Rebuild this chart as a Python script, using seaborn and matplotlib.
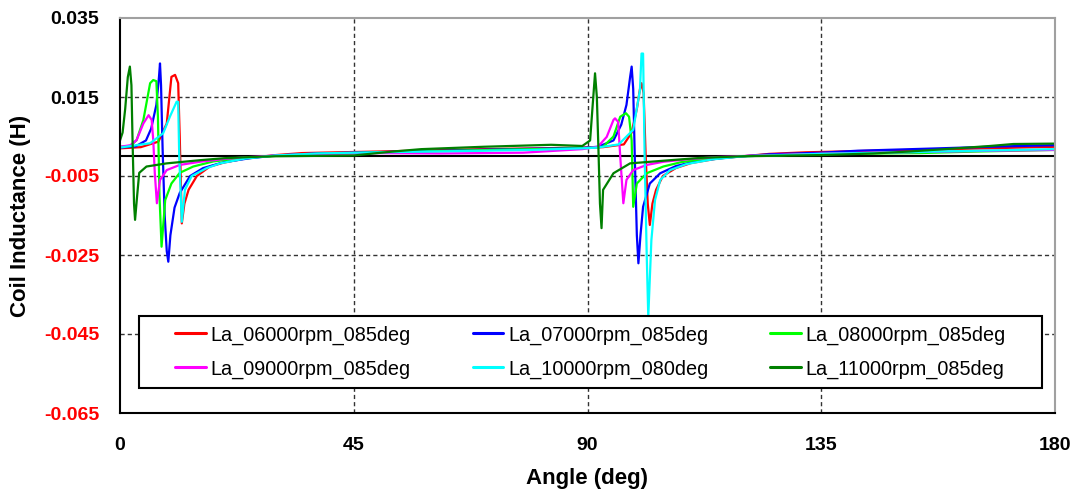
import numpy as np
import pandas as pd
import matplotlib
matplotlib.use("Agg")
import matplotlib.pyplot as plt
from matplotlib.patches import Rectangle
import seaborn as sns

# ---------------- data ----------------
series_names = ["La_06000rpm_085deg", "La_07000rpm_085deg", "La_08000rpm_085deg",
                "La_09000rpm_085deg", "La_10000rpm_080deg", "La_11000rpm_085deg"]
series_colors = ["#FF0000", "#0000FF", "#00FF00", "#FF00FF", "#00FFFF", "#008000"]

ang_06000 = [0, 4, 7.4, 9.0, 9.9, 10.6, 11.2, 11.5, 11.9, 12.4, 13.2, 14.8, 17.3, 20, 24, 30, 35, 42,
             50, 60, 70, 80, 89, 93, 97, 98.5, 99.5, 100.1, 100.4, 100.8, 101.2, 101.6, 102.0, 102.5,
             103.2, 104.5, 107, 110, 115, 125, 132, 145, 160, 170, 180]
val_06000 = [0.0020, 0.0023, 0.0037, 0.0083, 0.0201, 0.0206, 0.0185, 0.0050, -0.0170, -0.0120,
             -0.0085, -0.0050, -0.0026, -0.0016, -0.0006, 0.0003, 0.0008, 0.0010, 0.0012, 0.0015,
             0.0018, 0.0020, 0.0022, 0.0023, 0.0030, 0.0060, 0.0120, 0.0170, 0.0185, 0.0160,
             0.0000, -0.0120, -0.0174, -0.0120, -0.0085, -0.0050, -0.0030, -0.0017, -0.0006,
             0.0006, 0.0010, 0.0014, 0.0018, 0.0021, 0.0024]

ang_07000 = [0, 3, 5, 6, 7.0, 7.5, 7.7, 7.9, 8.2, 8.6, 9.0, 9.3, 9.7, 10.5, 11.5, 13.5, 16, 20, 25,
             30, 38, 45, 55, 65, 75, 89, 92, 95, 96.5, 97.5, 98.2, 98.5, 98.8, 99.1, 99.5, 99.8,
             100.2, 100.7, 102, 104, 107, 111, 117, 125, 135, 142, 155, 170, 180]
val_07000 = [0.0022, 0.0025, 0.0040, 0.0070, 0.0130, 0.0200, 0.0235, 0.0180, 0.0020, -0.0150,
             -0.0240, -0.0267, -0.0200, -0.0130, -0.0093, -0.0050, -0.0030, -0.0015, -0.0005,
             0.0002, 0.0007, 0.0009, 0.0012, 0.0015, 0.0018, 0.0021, 0.0024, 0.0040, 0.0080,
             0.0130, 0.0200, 0.0227, 0.0170, 0.0000, -0.0200, -0.0271, -0.0200, -0.0128, -0.0069,
             -0.0043, -0.0025, -0.0012, -0.0003, 0.0005, 0.0009, 0.0014, 0.0019, 0.0025, 0.0028]

ang_08000 = [0, 2, 3.2, 4.5, 5.8, 6.4, 7.0, 7.3, 7.6, 8.0, 8.7, 9.9, 11.5, 14.1, 18, 24, 30, 38, 45,
             55, 65, 75, 89, 93, 95, 96.3, 97.4, 98.0, 98.5, 98.8, 99.5, 101.4, 104.6, 108, 113,
             120, 135, 145, 154, 165, 180]
val_08000 = [0.0024, 0.0026, 0.0041, 0.0092, 0.0185, 0.0193, 0.0190, 0.0100, -0.0100, -0.0229,
             -0.0111, -0.0069, -0.0042, -0.0026, -0.0013, -0.0004, 0.0001, 0.0006, 0.0008, 0.0011,
             0.0014, 0.0017, 0.0020, 0.0024, 0.0050, 0.0100, 0.0109, 0.0100, 0.0040, -0.0128,
             -0.0069, -0.0043, -0.0026, -0.0015, -0.0006, 0.0000, 0.0006, 0.0007, 0.0008, 0.0012,
             0.0016]

ang_09000 = [0, 2, 3.2, 4.5, 5.5, 6.1, 6.4, 6.7, 7.1, 7.7, 9.0, 11.5, 15.4, 20, 25, 30, 40, 50, 61.6,
             70, 77.6, 89, 92, 93.7, 95.0, 95.3, 95.9, 96.3, 96.9, 97.5, 98.8, 101.4, 104.6, 109,
             115, 125, 140, 155, 168, 180]
val_09000 = [0.0024, 0.0028, 0.0041, 0.0083, 0.0104, 0.0092, 0.0041, -0.0043, -0.0119, -0.0060,
             -0.0035, -0.0022, -0.0014, -0.0007, -0.0002, 0.0002, 0.0006, 0.0008, 0.0007, 0.0008,
             0.0009, 0.0018, 0.0024, 0.0049, 0.0092, 0.0096, 0.0087, 0.0000, -0.0119, -0.0060,
             -0.0035, -0.0022, -0.0014, -0.0008, -0.0002, 0.0003, 0.0008, 0.0011, 0.0014, 0.0016]

ang_10000 = [0, 5.8, 8.3, 9.6, 10.9, 11.2, 11.4, 11.9, 12.5, 13.8, 16.7, 19.3, 24, 30, 38, 45, 55,
             65, 79, 89, 92, 96, 98.8, 100.1, 100.4, 100.7, 101.0, 101.4, 101.7, 102.3, 103.0,
             104.0, 105.9, 109, 114, 120, 135, 150, 165, 180]
val_10000 = [0.0022, 0.0033, 0.0058, 0.0100, 0.0138, 0.0138, 0.0000, -0.0166, -0.0085, -0.0050,
             -0.0030, -0.0018, -0.0006, 0.0002, 0.0007, 0.0009, 0.0011, 0.0013, 0.0016, 0.0020,
             0.0022, 0.0030, 0.0067, 0.0168, 0.0260, 0.0260, 0.0000, -0.0250, -0.0406, -0.0212,
             -0.0111, -0.0060, -0.0035, -0.0020, -0.0008, 0.0000, 0.0006, 0.0010, 0.0014, 0.0018]

ang_11000 = [0, 0.5, 1.0, 1.5, 1.9, 2.2, 2.4, 2.7, 2.9, 3.3, 3.7, 5.1, 9.0, 15.4, 20, 25, 30, 38, 45,
             52.6, 58, 70, 83, 89, 90.5, 91.0, 91.45, 91.8, 92.1, 92.4, 92.7, 93.0, 95.0, 98.2,
             105.9, 112, 120, 135, 145, 152, 161, 167.5, 172, 180]
val_11000 = [0.0040, 0.0060, 0.0120, 0.0200, 0.0227, 0.0180, 0.0050, -0.0120, -0.0161, -0.0100,
             -0.0042, -0.0026, -0.0018, -0.0010, -0.0005, -0.0002, 0.0000, 0.0001, 0.0002, 0.0012,
             0.0018, 0.0024, 0.0029, 0.0026, 0.0040, 0.0130, 0.0210, 0.0150, 0.0020, -0.0120,
             -0.0182, -0.0085, -0.0043, -0.0018, -0.0010, -0.0004, 0.0000, 0.0003, 0.0007, 0.0012,
             0.0020, 0.0026, 0.0031, 0.0032]

x_ticks = [0, 45, 90, 135, 180]
x_tick_labels = ["0", "45", "90", "135", "180"]
y_ticks = [0.035, 0.015, -0.005, -0.025, -0.045, -0.065]
y_tick_labels = ["0.035", "0.015", "-0.005", "-0.025", "-0.045", "-0.065"]
x_label = "Angle (deg)"
y_label = "Coil Inductance (H)"

# ---------------- build table ----------------
angles = [ang_06000, ang_07000, ang_08000, ang_09000, ang_10000, ang_11000]
values = [val_06000, val_07000, val_08000, val_09000, val_10000, val_11000]
frames = []
for name, a, v in zip(series_names, angles, values):
    frames.append(pd.DataFrame({"Angle": a, "L": v, "Series": name}))
df = pd.concat(frames, ignore_index=True)

sns.set_style("white")
plt.rcParams["font.family"] = ["Liberation Sans", "DejaVu Sans"]
plt.rcParams["text.color"] = "black"
plt.rcParams["axes.labelcolor"] = "black"
plt.rcParams["xtick.color"] = "black"
plt.rcParams["ytick.color"] = "black"

W, H = 1076, 492
fig = plt.figure(figsize=(W / 100, H / 100), dpi=100)
fig.patch.set_facecolor("white")
ax_l, ax_r, ax_t, ax_b = 120, 1055, 18, 413
ax = fig.add_axes([ax_l / W, 1 - ax_b / H, (ax_r - ax_l) / W, (ax_b - ax_t) / H])

# grid (interior only) and zero line
for gx in x_ticks[1:-1]:
    ax.axvline(gx, color="#333333", lw=1.0, ls=(0, (3, 2.2)), zorder=0.5)
for gy in y_ticks[1:-1]:
    ax.axhline(gy, color="#333333", lw=1.0, ls=(0, (3, 2.2)), zorder=0.5)
ax.axhline(0, color="black", lw=1.5, zorder=1.8)

sns.lineplot(data=df, x="Angle", y="L", hue="Series", hue_order=series_names,
             palette=dict(zip(series_names, series_colors)), estimator=None, sort=False,
             lw=1.6, ax=ax, zorder=2)

ax.set_xlim(0, 180)
ax.set_ylim(-0.065, 0.035)
ax.set_xticks(x_ticks)
ax.set_xticklabels(x_tick_labels)
ax.set_yticks(y_ticks)
ax.set_yticklabels(y_tick_labels)
ax.tick_params(axis="both", direction="in", length=5, width=1, colors="black",
               labelsize=14)
ax.tick_params(axis="x", pad=17)
ax.tick_params(axis="y", pad=15)
for lbl in ax.get_xticklabels():
    lbl.set_fontweight("bold")
    lbl.set_color("black")
for lbl, t in zip(ax.get_yticklabels(), y_ticks):
    lbl.set_fontweight("bold")
    lbl.set_color("#FF0000" if t < 0 else "black")

ax.set_xlabel(x_label, fontsize=16, fontweight="bold", color="black")
ax.set_ylabel(y_label, fontsize=16, fontweight="bold", color="black")
ax.xaxis.set_label_coords(0.5, -(468 - ax_b) / (ax_b - ax_t))
ax.yaxis.set_label_coords((31 - ax_l) / (ax_r - ax_l), 0.5)

for side in ["left", "bottom"]:
    ax.spines[side].set_color("black")
    ax.spines[side].set_linewidth(1.5)
for side in ["top", "right"]:
    ax.spines[side].set_color("#A0A0A0")
    ax.spines[side].set_linewidth(1.5)

# legend (row-major order like the reference)
handles, labels = ax.get_legend_handles_labels()
ax.get_legend().remove()
order = [0, 3, 1, 4, 2, 5]
handles = [handles[i] for i in order]
labels = [labels[i] for i in order]
aw, ah = ax_r - ax_l, ax_b - ax_t
box_l, box_r, box_t, box_b = 139, 1042, 316, 388
ax.add_patch(Rectangle(((box_l - ax_l) / aw, (ax_b - box_b) / ah), (box_r - box_l) / aw,
                       (box_b - box_t) / ah, transform=ax.transAxes, facecolor="white",
                       edgecolor="black", lw=1.5, zorder=4))
leg = ax.legend(handles, labels, ncol=3, loc="center",
                bbox_to_anchor=(((box_l + box_r) / 2 - ax_l) / aw, (ax_b - (box_t + box_b) / 2) / ah),
                frameon=False, fontsize=14.3, handlelength=1.55, handletextpad=0.25,
                columnspacing=3.1, labelspacing=0.75, borderpad=0.2)
leg.set_zorder(5)
for h in leg.legend_handles:
    h.set_linewidth(2.2)
for t in leg.get_texts():
    t.set_color("black")

fig.savefig("out.png", dpi=100)
